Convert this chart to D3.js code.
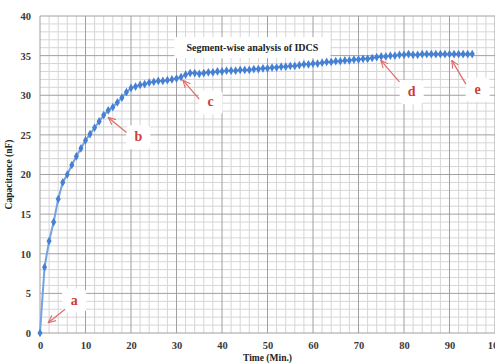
<!DOCTYPE html>
<html>
<head>
<meta charset="utf-8">
<script src="https://cdn.jsdelivr.net/npm/d3@7"></script>
<style>
  body { margin: 0; background: #fff; }
  svg { display: block; }
</style>
</head>
<body>
<div id="chart"></div>
<script>
// capacitance readings, one per minute (0..95)
const minutes = d3.range(0, 96);
const capacitance = [
  0, 8.3, 11.6, 14.0, 16.9, 19.0, 20.0, 21.2, 22.3, 23.3,
  24.3, 25.1, 25.9, 26.7, 27.5, 28.1, 28.5, 29.1, 29.7, 30.4,
  30.9, 31.1, 31.3, 31.4, 31.6, 31.7, 31.8, 31.8, 31.9, 32.0,
  32.1, 32.3, 32.6, 32.8, 32.8, 32.7, 32.8, 32.9, 32.9, 33.0,
  33.0, 33.1, 33.1, 33.1, 33.2, 33.2, 33.2, 33.3, 33.3, 33.4,
  33.4, 33.5, 33.5, 33.6, 33.6, 33.7, 33.7, 33.8, 33.9, 33.9,
  34.0, 34.0, 34.1, 34.2, 34.2, 34.3, 34.3, 34.4, 34.4, 34.5,
  34.5, 34.6, 34.6, 34.7, 34.8, 34.9, 34.9, 35.0, 35.0, 35.1,
  35.1, 35.2, 35.1, 35.1, 35.2, 35.2, 35.2, 35.2, 35.2, 35.2,
  35.2, 35.2, 35.2, 35.2, 35.2, 35.2
];
const xTicks = [0, 10, 20, 30, 40, 50, 60, 70, 80, 90, 100];
const yTicks = [0, 5, 10, 15, 20, 25, 30, 35, 40];

// segment markers: label spot, arrow tail, arrow tip (data units)
const notes = [
  { label: 'a', lx: 7.5, ly: 4.1, fx: 5.5, fy: 3.0, tx: 1.8, ty: 1.3 },
  { label: 'b', lx: 21.6, ly: 24.7, fx: 19.0, fy: 25.3, tx: 15.0, ty: 27.2 },
  { label: 'c', lx: 37.5, ly: 29.1, fx: 35.0, fy: 29.5, tx: 31.4, ty: 31.9 },
  { label: 'd', lx: 81.7, ly: 30.4, fx: 79.0, fy: 31.7, tx: 74.9, ty: 34.4 },
  { label: 'e', lx: 96.2, ly: 30.7, fx: 93.6, fy: 31.4, tx: 90.5, ty: 34.4 }
];

const serif = '"Liberation Serif", "Times New Roman", Times, serif';
const width = 495, height = 363;
const margin = { top: 16, right: 0, bottom: 30, left: 40 };
const innerW = width - margin.left - margin.right;
const innerH = height - margin.top - margin.bottom;

const svg = d3.select('#chart').append('svg')
  .attr('width', width)
  .attr('height', height);

const defs = svg.append('defs');
defs.append('marker')
  .attr('id', 'arrow')
  .attr('viewBox', '0 0 10 10')
  .attr('refX', 9).attr('refY', 5)
  .attr('markerWidth', 7).attr('markerHeight', 7)
  .attr('orient', 'auto')
  .append('path')
  .attr('d', 'M0,1 L9,5 L0,9')
  .attr('fill', 'none')
  .attr('stroke', '#e06a6a')
  .attr('stroke-width', 1.3);

const g = svg.append('g')
  .attr('transform', `translate(${margin.left},${margin.top})`);

const x = d3.scaleLinear().domain([0, 100]).range([0, innerW]);
const y = d3.scaleLinear().domain([0, 40]).range([innerH, 0]);

// minor grid
g.append('g')
  .selectAll('line')
  .data(d3.range(0, 101, 2).filter(d => d % 10 !== 0))
  .join('line')
  .attr('x1', d => x(d)).attr('x2', d => x(d))
  .attr('y1', 0).attr('y2', innerH)
  .attr('stroke', '#d6d6d6').attr('stroke-width', 1);

g.append('g')
  .selectAll('line')
  .data(d3.range(0, 41, 1).filter(d => d % 5 !== 0))
  .join('line')
  .attr('x1', 0).attr('x2', innerW)
  .attr('y1', d => y(d)).attr('y2', d => y(d))
  .attr('stroke', '#d6d6d6').attr('stroke-width', 1);

// major grid
g.append('g')
  .selectAll('line')
  .data(xTicks)
  .join('line')
  .attr('x1', d => x(d)).attr('x2', d => x(d))
  .attr('y1', 0).attr('y2', innerH)
  .attr('stroke', '#a0a0a0').attr('stroke-width', 1);

g.append('g')
  .selectAll('line')
  .data(yTicks)
  .join('line')
  .attr('x1', 0).attr('x2', innerW)
  .attr('y1', d => y(d)).attr('y2', d => y(d))
  .attr('stroke', '#a0a0a0').attr('stroke-width', 1);

// axes (labels only)
const xAxis = g.append('g')
  .attr('transform', `translate(0,${innerH})`)
  .call(d3.axisBottom(x).tickValues(xTicks).tickSize(0).tickPadding(9));
const yAxis = g.append('g')
  .call(d3.axisLeft(y).tickValues(yTicks).tickSize(0).tickPadding(9));
[xAxis, yAxis].forEach(a => {
  a.select('.domain').remove();
  a.attr('font-family', serif);
  a.selectAll('text')
    .attr('font-size', 10.5)
    .attr('font-weight', 'bold')
    .attr('fill', '#3a3a3a');
});

// title box
const title = g.append('g').attr('transform', `translate(${x(30.2)},${y(36.2)})`);
title.append('rect')
  .attr('x', -3).attr('y', -9)
  .attr('width', 156).attr('height', 21)
  .attr('fill', '#fff');
title.append('text')
  .attr('x', 75).attr('y', 5)
  .attr('text-anchor', 'middle')
  .attr('font-family', serif)
  .attr('font-size', 10)
  .attr('font-weight', 'bold')
  .attr('fill', '#222')
  .text('Segment-wise analysis of  IDCS');

// series line + markers
const pts = minutes.map((m, i) => [m, capacitance[i]]);
g.append('path')
  .datum(pts)
  .attr('fill', 'none')
  .attr('stroke', '#74a3e2')
  .attr('stroke-width', 2)
  .attr('d', d3.line().x(d => x(d[0])).y(d => y(d[1])));

const diamond = d3.symbol().type(d3.symbolDiamond).size(22);
g.append('g')
  .selectAll('path')
  .data(pts)
  .join('path')
  .attr('transform', d => `translate(${x(d[0])},${y(d[1])})`)
  .attr('d', diamond)
  .attr('fill', '#4680d2');

// annotations
const ann = g.append('g');
ann.selectAll('rect')
  .data(notes)
  .join('rect')
  .attr('x', d => x(d.lx) - 12)
  .attr('y', d => y(d.ly) - 12)
  .attr('width', 24).attr('height', 24)
  .attr('rx', 4)
  .attr('fill', '#fff');
ann.selectAll('line')
  .data(notes)
  .join('line')
  .attr('x1', d => x(d.fx)).attr('y1', d => y(d.fy))
  .attr('x2', d => x(d.tx)).attr('y2', d => y(d.ty))
  .attr('stroke', '#e06a6a')
  .attr('stroke-width', 1.2)
  .attr('marker-end', 'url(#arrow)');
ann.selectAll('text')
  .data(notes)
  .join('text')
  .attr('x', d => x(d.lx))
  .attr('y', d => y(d.ly) + 4)
  .attr('text-anchor', 'middle')
  .attr('font-family', serif)
  .attr('font-size', 14)
  .attr('font-weight', 'bold')
  .attr('fill', '#d03a3a')
  .text(d => d.label);

// axis titles
svg.append('text')
  .attr('x', margin.left + x(50))
  .attr('y', height - 2)
  .attr('text-anchor', 'middle')
  .attr('font-family', serif)
  .attr('font-size', 9.5)
  .attr('font-weight', 'bold')
  .attr('fill', '#222')
  .text('Time (Min.)');

svg.append('text')
  .attr('transform', `translate(12,${margin.top + y(20)}) rotate(-90)`)
  .attr('text-anchor', 'middle')
  .attr('font-family', serif)
  .attr('font-size', 9.5)
  .attr('font-weight', 'bold')
  .attr('fill', '#222')
  .text('Capacitance (nF)');
</script>
</body>
</html>
